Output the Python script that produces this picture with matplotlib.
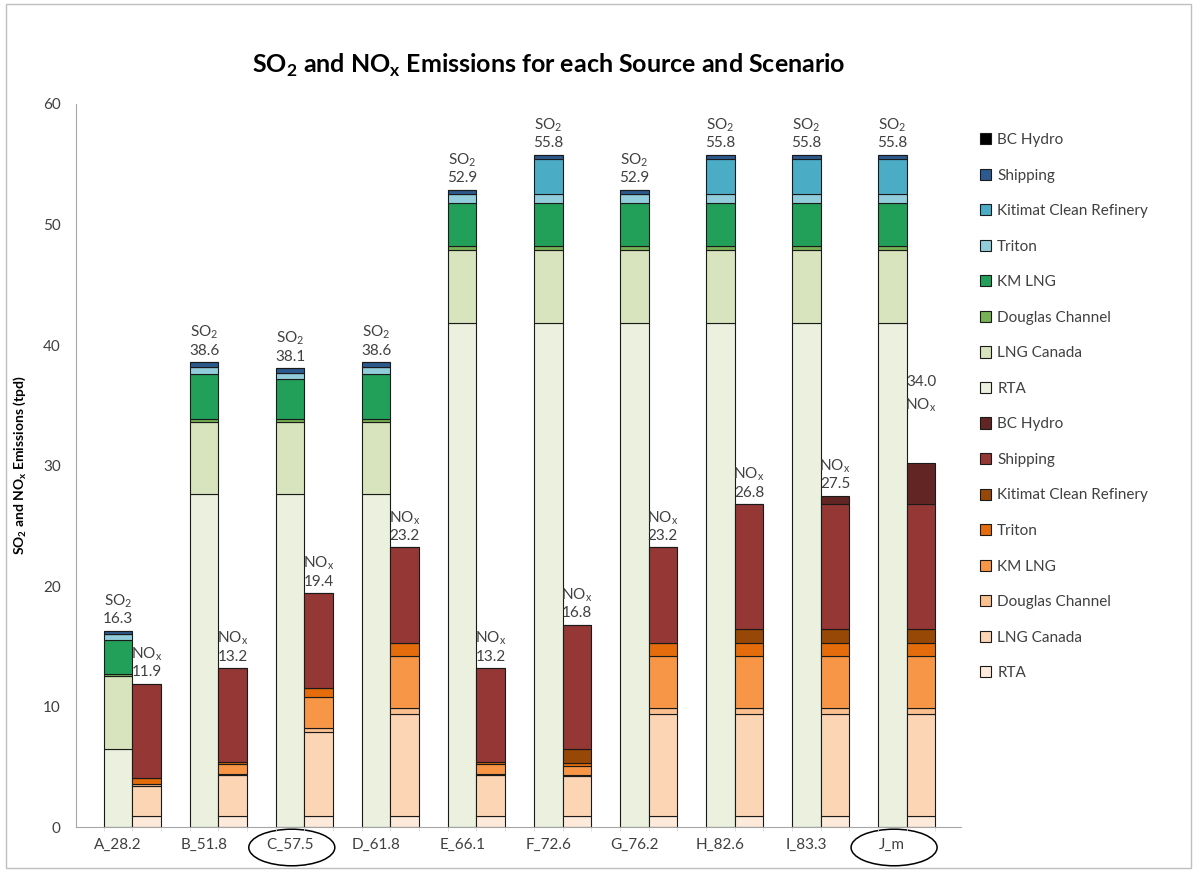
import numpy as np
import matplotlib.pyplot as plt
import matplotlib.transforms as mtransforms
from matplotlib.patches import Patch, Rectangle, Ellipse

plt.rcParams['font.family'] = ['Lato', 'DejaVu Sans']
plt.rcParams['mathtext.fontset'] = 'custom'
plt.rcParams['mathtext.rm'] = 'Lato'
plt.rcParams['mathtext.bf'] = 'Lato:bold'

scenarios = ['A_28.2', 'B_51.8', 'C_57.5', 'D_61.8', 'E_66.1',
             'F_72.6', 'G_76.2', 'H_82.6', 'I_83.3', 'J_m']
sources = ['RTA', 'LNG Canada', 'Douglas Channel', 'KM LNG', 'Triton',
           'Kitimat Clean Refinery', 'Shipping', 'BC Hydro']
circled = ['C_57.5', 'J_m']

# SO2 by source (tpd), stacked bottom to top in the order of sources
so2_rta = [6.5, 27.6, 27.6, 27.6, 41.8, 41.8, 41.8, 41.8, 41.8, 41.8]
so2_lngc = [6.0, 6.0, 6.0, 6.0, 6.1, 6.1, 6.1, 6.1, 6.1, 6.1]
so2_dc = [0.2, 0.3, 0.3, 0.3, 0.3, 0.3, 0.3, 0.3, 0.3, 0.3]
so2_kmlng = [2.8, 3.7, 3.3, 3.7, 3.6, 3.6, 3.6, 3.6, 3.6, 3.6]
so2_triton = [0.5, 0.6, 0.5, 0.6, 0.7, 0.7, 0.7, 0.7, 0.7, 0.7]
so2_kcr = [0.0, 0.0, 0.0, 0.0, 0.0, 2.9, 0.0, 2.9, 2.9, 2.9]
so2_ship = [0.3, 0.4, 0.4, 0.4, 0.4, 0.4, 0.4, 0.4, 0.4, 0.4]
so2_bch = [0.0, 0.0, 0.0, 0.0, 0.0, 0.0, 0.0, 0.0, 0.0, 0.0]

# NOx by source (tpd)
nox_rta = [0.9, 0.9, 0.9, 0.9, 0.9, 0.9, 0.9, 0.9, 0.9, 0.9]
nox_lngc = [2.5, 3.4, 7.0, 8.5, 3.4, 3.3, 8.5, 8.5, 8.5, 8.5]
nox_dc = [0.2, 0.1, 0.3, 0.5, 0.1, 0.1, 0.5, 0.5, 0.5, 0.5]
nox_kmlng = [0.0, 0.8, 2.6, 4.3, 0.8, 0.8, 4.3, 4.3, 4.3, 4.3]
nox_triton = [0.5, 0.2, 0.7, 1.1, 0.2, 0.2, 1.1, 1.1, 1.1, 1.1]
nox_kcr = [0.0, 0.0, 0.0, 0.0, 0.0, 1.2, 0.0, 1.1, 1.1, 1.1]
nox_ship = [7.8, 7.8, 7.9, 7.9, 7.8, 10.3, 7.9, 10.4, 10.4, 10.4]
nox_bch = [0.0, 0.0, 0.0, 0.0, 0.0, 0.0, 0.0, 0.0, 0.7, 3.4]

so2_totals = ['16.3', '38.6', '38.1', '38.6', '52.9', '55.8', '52.9', '55.8', '55.8', '55.8']
nox_totals = ['11.9', '13.2', '19.4', '23.2', '13.2', '16.8', '23.2', '26.8', '27.5', '34.0']

so2_colors = ['#EBF1DE', '#D7E4BD', '#77B255', '#22A05A', '#92CDDC',
              '#4BACC6', '#2C5A8F', '#000000']
nox_colors = ['#FDEADA', '#FCD5B5', '#FAC090', '#F79646', '#E46C0A',
              '#974706', '#953735', '#632523']

so2 = np.array([so2_rta, so2_lngc, so2_dc, so2_kmlng, so2_triton, so2_kcr, so2_ship, so2_bch])
nox = np.array([nox_rta, nox_lngc, nox_dc, nox_kmlng, nox_triton, nox_kcr, nox_ship, nox_bch])

x = np.arange(len(scenarios))
w = 1 / 3

fig = plt.figure(figsize=(11.97, 8.71), dpi=100)
ax = fig.add_axes([0.0635, 0.0505, 0.7395, 0.8301])

bottom = np.zeros(len(x))
for vals, c in zip(so2, so2_colors):
    ax.bar(x, vals, w, bottom=bottom, color=c, edgecolor='#1a1a1a', linewidth=0.8)
    bottom += vals
so2_top = bottom.copy()

bottom = np.zeros(len(x))
for vals, c in zip(nox, nox_colors):
    ax.bar(x + w, vals, w, bottom=bottom, color=c, edgecolor='#1a1a1a', linewidth=0.8)
    bottom += vals
nox_top = bottom.copy()

lab_kw = dict(ha='center', va='bottom', fontsize=11, color='#404040',
              textcoords='offset points', linespacing=1.25)
for i in range(len(x)):
    ax.annotate('SO$_2$\n' + so2_totals[i], (x[i], so2_top[i]), xytext=(0, 3), **lab_kw)
    if i < len(x) - 1:
        ax.annotate('NO$_\\mathrm{x}$\n' + nox_totals[i], (x[i] + w, nox_top[i]),
                    xytext=(0, 3), **lab_kw)
# last NOx label sits well above its bar, number first
ax.text(x[-1] + w, 35.9, nox_totals[-1] + '\nNO$_\\mathrm{x}$', ha='center', va='center',
        fontsize=11, color='#404040', linespacing=1.6)

ax.set_xlim(-0.488, 9.80)
ax.set_ylim(0, 60)
ax.set_yticks(range(0, 61, 10))
ax.set_xticks(x)
ax.set_xticklabels(scenarios)
ax.set_xticks(np.arange(-1 / 6, 9.8, w), minor=True)
ax.tick_params(axis='y', length=0, pad=11, labelsize=11, labelcolor='#404040')
ax.tick_params(axis='x', which='major', length=0, pad=8, labelsize=11, labelcolor='#404040')
ax.tick_params(axis='x', which='minor', length=3, color='#D9D9D9')
for s in ['top', 'right']:
    ax.spines[s].set_visible(False)
for s in ['left', 'bottom']:
    ax.spines[s].set_color('#A6A6A6')

# rings around the highlighted scenario names
trans = mtransforms.blended_transform_factory(ax.transData, fig.transFigure)
for name in circled:
    i = scenarios.index(name)
    ax.add_patch(Ellipse((x[i] + 0.02, 0.027), 1.0, 0.042, transform=trans,
                         fill=False, edgecolor='#000000', linewidth=1.1, clip_on=False))

ax.set_ylabel('SO$_\\mathbf{2}$ and NO$_\\mathbf{x}$ Emissions (tpd)', fontsize=10,
              fontweight='bold', color='#000000')
ax.yaxis.set_label_coords(-0.054, 0.5)

fig.text(0.458, 0.925, 'SO$_\\mathbf{2}$ and NO$_\\mathbf{x}$ Emissions for each Source and Scenario',
         ha='center', va='center', fontsize=18, fontweight='bold', color='#000000')

handles = []
labels = []
for name, c in zip(sources[::-1], so2_colors[::-1]):
    handles.append(Patch(facecolor=c, edgecolor='#1a1a1a', linewidth=0.8))
    labels.append(name)
for name, c in zip(sources[::-1], nox_colors[::-1]):
    handles.append(Patch(facecolor=c, edgecolor='#1a1a1a', linewidth=0.8))
    labels.append(name)
fig.legend(handles, labels, loc='upper left', bbox_to_anchor=(0.812, 0.856),
           frameon=False, fontsize=11, labelspacing=1.41, handlelength=0.75,
           handleheight=0.75, handletextpad=0.4, borderpad=0, labelcolor='#404040')

fig.add_artist(Rectangle((0.005, 0.004), 0.99, 0.991, transform=fig.transFigure,
                         fill=False, edgecolor='#BFBFBF', linewidth=1))

plt.savefig('out.png', dpi=100)
